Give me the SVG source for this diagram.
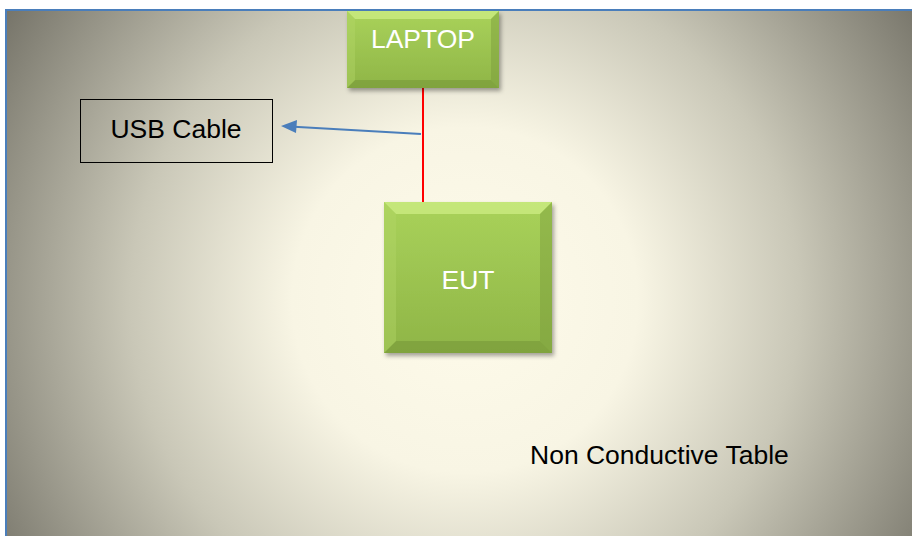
<svg xmlns="http://www.w3.org/2000/svg" width="912" height="536" viewBox="0 0 912 536">
<defs>
<radialGradient id="bg" cx="465" cy="300" r="540" gradientUnits="userSpaceOnUse">
<stop offset="0" stop-color="#fefbea"/>
<stop offset="0.32" stop-color="#f8f5e4"/>
<stop offset="0.62" stop-color="#c9c7b7"/>
<stop offset="1" stop-color="#77756a"/>
</radialGradient>
<linearGradient id="green" x1="0" y1="0" x2="0" y2="1">
<stop offset="0" stop-color="#a9d25a"/>
<stop offset="1" stop-color="#8fb547"/>
</linearGradient>
<filter id="sh" x="-10%" y="-10%" width="130%" height="130%">
<feDropShadow dx="2" dy="3" stdDeviation="2" flood-color="#000" flood-opacity="0.35"/>
</filter>
<style>
.lbl{font-family:"Liberation Sans",Arial,sans-serif;font-size:26.5px;}
.w{fill:#ffffff;}
.k{fill:#000000;}
.bt{fill:#d0ef88;opacity:0.7;}
.bb{fill:#6f8f33;opacity:0.45;}
.bl{fill:#b3d86a;opacity:0.4;}
.br{fill:#7a9b3b;opacity:0.45;}
</style>
</defs>
<rect width="912" height="536" fill="#ffffff"/>
<rect x="6" y="10" width="910" height="530" fill="url(#bg)" stroke="#4a7ebb" stroke-width="2"/>
<g id="connectors">
<line x1="423" y1="88" x2="423" y2="202" stroke="#ff0000" stroke-width="2"/>
<line x1="421" y1="134" x2="294" y2="126.8" stroke="#4a7ebb" stroke-width="2"/>
<polygon points="281,126 297,120 296,133" fill="#4a7ebb"/>
</g>
<g id="laptop">
<rect x="347" y="11" width="152" height="77" fill="url(#green)" filter="url(#sh)"/>
<polygon class="bt" points="347,11 499,11 491,19 355,19"/>
<polygon class="bb" points="347,88 499,88 491,80 355,80"/>
<polygon class="bl" points="347,11 355,19 355,80 347,88"/>
<polygon class="br" points="499,11 491,19 491,80 499,88"/>
<text class="lbl w" x="423" y="48" text-anchor="middle">LAPTOP</text>
</g>
<g id="usb">
<rect x="80.5" y="99.5" width="192" height="63" fill="none" stroke="#000" stroke-width="1"/>
<text class="lbl k" x="176" y="138" text-anchor="middle">USB Cable</text>
</g>
<g id="eut">
<rect x="384" y="202" width="168" height="151" fill="url(#green)" filter="url(#sh)"/>
<polygon class="bt" points="384,202 552,202 540,214 396,214"/>
<polygon class="bb" points="384,353 552,353 540,341 396,341"/>
<polygon class="bl" points="384,202 396,214 396,341 384,353"/>
<polygon class="br" points="552,202 540,214 540,341 552,353"/>
<text class="lbl w" x="468" y="289" text-anchor="middle">EUT</text>
</g>
<text class="lbl k" x="530" y="464">Non Conductive Table</text>
</svg>
